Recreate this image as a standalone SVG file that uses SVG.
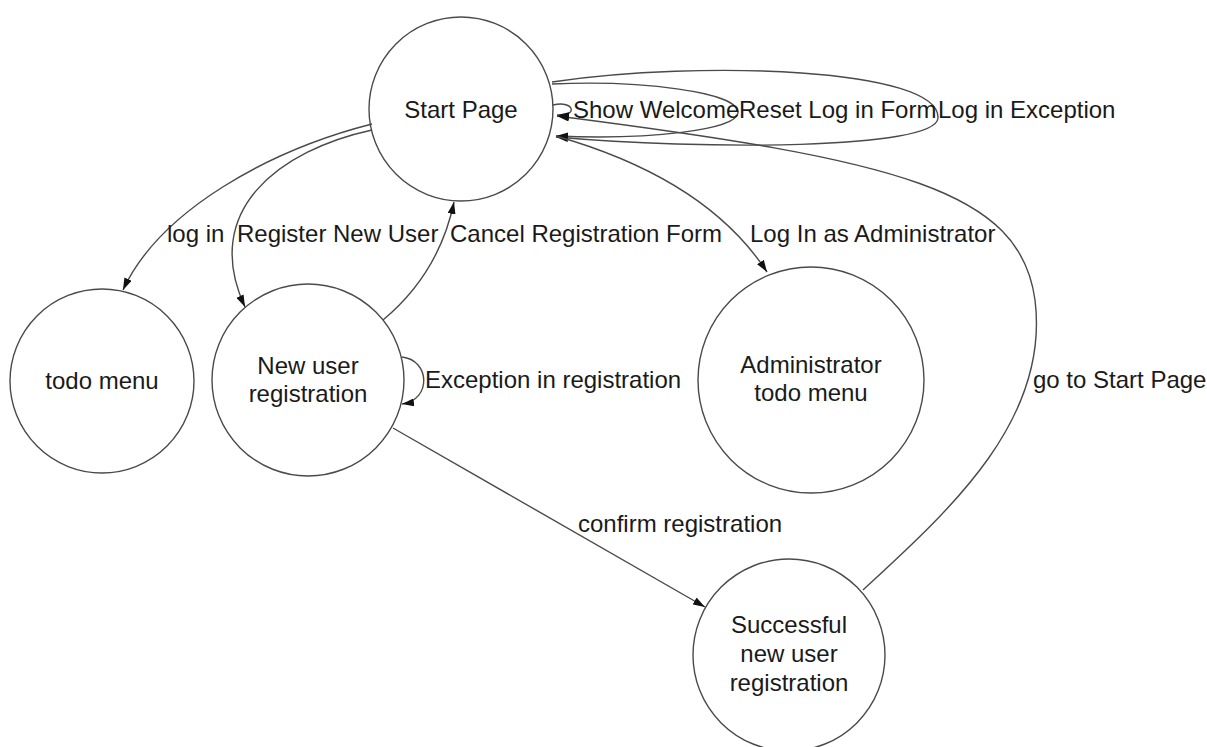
<svg xmlns="http://www.w3.org/2000/svg" width="1207" height="747" viewBox="0 0 1207 747">
  <style>
    .state { fill: #ffffff; stroke: #4a4a4a; stroke-width: 1.4; }
    .edge { fill: none; stroke: #4a4a4a; stroke-width: 1.4; marker-end: url(#arrow); }
    text { font-family: "Liberation Sans", Arial, sans-serif; font-size: 24px; fill: #1a1a1a; }
    .c { text-anchor: middle; }
  </style>
  <defs>
    <marker id="arrow" viewBox="0 0 12 8" refX="12" refY="4" markerWidth="12" markerHeight="8" markerUnits="userSpaceOnUse" orient="auto">
      <path d="M0,0 L12,4 L0,8 Z" fill="#111111"/>
    </marker>
  </defs>
  <rect width="1207" height="747" fill="#ffffff"/>

  <!-- states -->
  <g id="start-page">
    <circle class="state" cx="461" cy="109" r="92"/>
    <text class="c" x="461" y="118">Start Page</text>
  </g>
  <g id="todo-menu">
    <circle class="state" cx="102" cy="381" r="92"/>
    <text class="c" x="102" y="389">todo menu</text>
  </g>
  <g id="new-user-registration">
    <circle class="state" cx="308" cy="380" r="96"/>
    <text class="c" x="308" y="374">New user</text>
    <text class="c" x="308" y="402">registration</text>
  </g>
  <g id="administrator-todo-menu">
    <circle class="state" cx="811" cy="380" r="113"/>
    <text class="c" x="811" y="373">Administrator</text>
    <text class="c" x="811" y="401">todo menu</text>
  </g>
  <g id="successful-registration">
    <circle class="state" cx="789" cy="655" r="96"/>
    <text class="c" x="789" y="633">Successful</text>
    <text class="c" x="789" y="662">new user</text>
    <text class="c" x="789" y="691">registration</text>
  </g>

  <!-- transitions -->
  <g id="connectors">
    <!-- self loops on Start Page -->
    <path class="edge" d="M553,105 C575,100 578,117 557,115"/>
    <path class="edge" d="M552,84 C640,80 740,92 738,113 C736,130 650,140 556,136"/>
    <path class="edge" d="M552,82 C700,60 940,68 938,118 C936,150 700,150 556,137"/>
    <!-- Start Page to other states -->
    <path class="edge" d="M372,124 C270,150 160,210 123,290"/>
    <path class="edge" d="M372,130 C280,150 200,210 245,307"/>
    <path class="edge" d="M556,136 C640,160 720,200 767,272"/>
    <!-- New user registration -->
    <path class="edge" d="M383,320 C425,285 445,245 454,202"/>
    <path class="edge" d="M402,357 C430,360 432,400 402,404"/>
    <path class="edge" d="M393,428 L705,607"/>
    <!-- back to Start Page -->
    <path class="edge" d="M863,590 C950,510 1050,420 1035,300 C1020,190 900,160 557,116"/>
  </g>

  <!-- transition labels -->
  <g id="labels">
    <text x="573" y="118">Show Welcome</text>
    <text x="739" y="118">Reset Log in Form</text>
    <text x="938" y="118">Log in Exception</text>
    <text x="167" y="242">log in</text>
    <text x="237" y="242">Register New User</text>
    <text x="450" y="242">Cancel Registration Form</text>
    <text x="750" y="242">Log In as Administrator</text>
    <text x="425" y="388">Exception in registration</text>
    <text x="1033" y="388">go to Start Page</text>
    <text x="578" y="532">confirm registration</text>
  </g>
</svg>
